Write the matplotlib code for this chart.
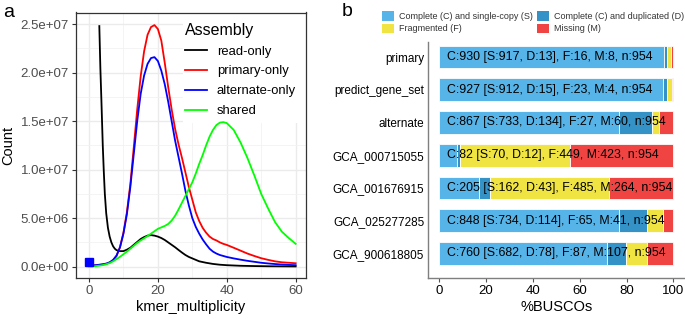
import numpy as np
import matplotlib.pyplot as plt
from matplotlib.patches import Patch, Rectangle
from matplotlib.ticker import MultipleLocator, FuncFormatter

plt.rcParams['font.family'] = ['Liberation Sans', 'DejaVu Sans']

# ---- panel a: kmer spectra (counts in millions)
kmer_x = list(range(0, 41)) + list(range(42, 61, 2))
primary_only = [0.10, 0.12, 0.15, 0.18, 0.22, 0.28, 0.42, 0.65, 1.10, 2.00,
                3.50, 5.60, 8.50, 12.3, 16.2, 19.6, 22.2, 23.9, 24.7, 24.9,
                24.5, 23.3, 21.0, 18.5, 16.2, 14.2, 12.6, 11.2, 9.7, 8.2,
                6.9, 5.6, 4.7, 4.0, 3.5, 3.1, 2.85, 2.7, 2.5, 2.35, 2.24,
                1.95, 1.65, 1.35, 1.1, 0.87, 0.7, 0.55, 0.45, 0.4, 0.35]
alternate_only = [0.10, 0.12, 0.15, 0.20, 0.25, 0.32, 0.45, 0.70, 1.15, 2.0,
                  3.4, 5.4, 8.2, 11.6, 15.0, 17.8, 19.7, 20.9, 21.5, 21.6,
                  21.2, 20.2, 18.8, 17.0, 15.0, 13.0, 11.3, 9.6, 7.8, 6.3,
                  5.0, 4.1, 3.4, 2.8, 2.3, 1.85, 1.55, 1.35, 1.2, 1.1, 1.0,
                  0.85, 0.72, 0.6, 0.5, 0.4, 0.33, 0.27, 0.22, 0.18, 0.15]
shared = [0.02, 0.03, 0.06, 0.10, 0.16, 0.25, 0.37, 0.55, 0.78, 1.02,
          1.28, 1.55, 1.85, 2.15, 2.45, 2.7, 2.92, 3.15, 3.4, 3.65,
          3.9, 4.05, 4.2, 4.4, 4.75, 5.25, 5.9, 6.6, 7.3, 8.0,
          8.7, 9.6, 10.6, 11.5, 12.5, 13.4, 14.1, 14.6, 14.85, 14.9, 14.8,
          14.1, 12.8, 11.2, 9.4, 7.5, 6.0, 4.6, 3.6, 2.95, 2.35]
read_x = [3, 3.3, 3.6, 4, 4.3, 4.6, 5, 5.5, 6, 6.5, 7, 7.5, 8] + \
         list(range(9, 31)) + [32, 34, 36, 38, 40, 44, 48, 52, 56, 60]
read_only = [24.8, 20.5, 17.2, 12.5, 9.8, 7.5, 5.5, 4.0, 3.1, 2.5, 2.1, 1.85, 1.7,
             1.6, 1.6, 1.75, 1.95, 2.25, 2.55, 2.85, 3.05, 3.2, 3.25, 3.2,
             3.1, 2.95, 2.75, 2.5, 2.25, 2.0, 1.72, 1.45, 1.2, 1.0, 0.85,
             0.55, 0.4, 0.28, 0.2, 0.15, 0.09, 0.06, 0.04, 0.03, 0.02]
blue_point = (0, 0.45)

# ---- panel b: BUSCO counts
assemblies = ["primary", "predict_gene_set", "alternate", "GCA_000715055",
              "GCA_001676915", "GCA_025277285", "GCA_900618805"]
single_copy = [917, 912, 733, 70, 162, 734, 682]
duplicated = [13, 15, 134, 12, 43, 114, 78]
fragmented = [16, 23, 27, 449, 485, 65, 87]
missing = [8, 4, 60, 423, 264, 41, 107]
n_total = 954

W, H = 685, 319
fig = plt.figure(figsize=(W / 100, H / 100), dpi=100)

# ---------------- panel a
ax = fig.add_axes([76 / W, 1 - 278 / H, 230 / W, 265.5 / H])
ax.set_axisbelow(True)
ax.xaxis.set_major_locator(MultipleLocator(20))
ax.xaxis.set_minor_locator(MultipleLocator(10))
ax.yaxis.set_major_locator(MultipleLocator(5e6))
ax.yaxis.set_minor_locator(MultipleLocator(2.5e6))
ax.grid(which='major', color='#EBEBEB', linewidth=1.0)
ax.grid(which='minor', color='#F2F2F2', linewidth=0.6)
ax.tick_params(which='minor', length=0)
ax.tick_params(which='major', length=3, width=0.8, color='#333333',
               labelcolor='#4D4D4D', labelsize=9.5, pad=2)

# white legend background hides the grid in the upper right
ax.add_patch(Rectangle((0.465, 0.584), 0.535, 0.416, transform=ax.transAxes,
                       facecolor='white', edgecolor='none', zorder=1))

ax.plot(read_x, np.array(read_only) * 1e6, color='black', lw=1.3, label='read-only')
ax.plot(kmer_x, np.array(primary_only) * 1e6, color='#FF0000', lw=1.3, label='primary-only')
ax.plot(kmer_x, np.array(alternate_only) * 1e6, color='#0000FF', lw=1.3, label='alternate-only')
ax.plot(kmer_x, np.array(shared) * 1e6, color='#00FF00', lw=1.3, label='shared')
ax.plot([blue_point[0]], [blue_point[1] * 1e6], 's', color='#0000FF', ms=5.5)

ax.set_xlim(-3.77, 63)
ax.set_ylim(-1.17e6, 26.2e6)
ax.yaxis.set_major_formatter(FuncFormatter(lambda v, p: '%.1e' % v))
for s in ax.spines.values():
    s.set_color('#333333')
    s.set_linewidth(0.9)
ax.set_xlabel('kmer_multiplicity', fontsize=10.5, labelpad=2)
fig.text(8 / W, 1 - 145 / H, 'Count', rotation=90, fontsize=10.5,
         ha='center', va='center')

leg = ax.legend(title='Assembly', loc='upper left', bbox_to_anchor=(0.462, 0.972),
                fontsize=9.4, title_fontsize=11.5, frameon=False,
                handlelength=1.7, handletextpad=0.75, labelspacing=0.6,
                borderpad=0.2, borderaxespad=0.0)
leg._legend_box.align = 'left'

# ---------------- panel b
axb = fig.add_axes([427.7 / W, 1 - 278.3 / H, 1 - 427.7 / W, 236 / H])
colors = ['#56B4E9', '#3492C7', '#F0E442', '#F04442']
names = ['Complete (C) and single-copy (S)', 'Complete (C) and duplicated (D)',
         'Fragmented (F)', 'Missing (M)']
ypos = np.arange(len(assemblies))
left = np.zeros(len(assemblies))
for vals, col in zip([single_copy, duplicated, fragmented, missing], colors):
    width = np.array(vals) / n_total * 100
    axb.barh(ypos, width, left=left, height=0.7, color=col,
             edgecolor='#FDFDFD', linewidth=0.6)
    left += width

for i in range(len(assemblies)):
    s, d, f, m = single_copy[i], duplicated[i], fragmented[i], missing[i]
    txt = f"C:{s + d} [S:{s}, D:{d}], F:{f}, M:{m}, n:{n_total}"
    axb.text(3.3, ypos[i], txt, ha='left', va='center', fontsize=8.9, color='black')

axb.set_xlim(-5, 105)
axb.set_ylim(6.76, -0.45)
axb.set_yticks(ypos)
axb.set_yticklabels(assemblies)
axb.set_xticks([0, 20, 40, 60, 80, 100])
axb.tick_params(axis='y', length=0, labelsize=8.5, pad=2.5)
axb.tick_params(axis='x', length=3, width=0.8, color='#555555', labelsize=9.5,
                pad=2)
for side in ['top', 'right']:
    axb.spines[side].set_visible(False)
for side in ['left', 'bottom']:
    axb.spines[side].set_color('#7F7F7F')
    axb.spines[side].set_linewidth(1.0)
axb.set_xlabel('%BUSCOs', fontsize=10.5, labelpad=2)

handles = [Patch(facecolor=colors[i], edgecolor='none') for i in [0, 2, 1, 3]]
labels = [names[i] for i in [0, 2, 1, 3]]
fig.legend(handles, labels, ncol=2, loc='upper left',
           bbox_to_anchor=(376 / W, 1 - 5 / H), frameon=False, fontsize=6.5,
           handlelength=1.3, handleheight=1.2, handletextpad=0.55,
           columnspacing=0.45, labelspacing=0.3, borderpad=0.2,
           labelcolor='#333333')

fig.text(3 / W, 1 - 4 / H, 'a', fontsize=14, ha='left', va='top')
fig.text(342 / W, 1 - 3 / H, 'b', fontsize=14, ha='left', va='top')

fig.savefig('out.png', dpi=100)
